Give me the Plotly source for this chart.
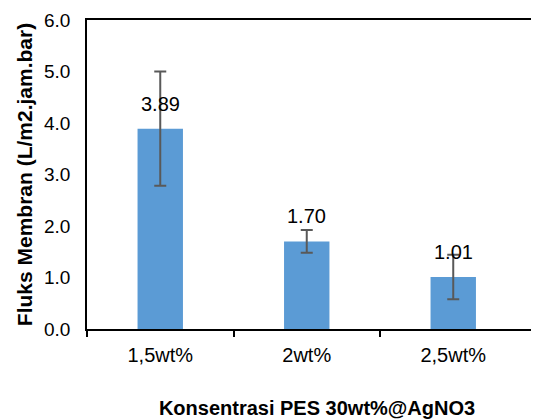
import plotly.graph_objects as go

categories = ["1,5wt%", "2wt%", "2,5wt%"]
flux = [3.89, 1.70, 1.01]
flux_err = [1.11, 0.22, 0.43]
y_ticks = [0, 1, 2, 3, 4, 5, 6]

x_idx = list(range(len(categories)))

fig = go.Figure()
fig.add_trace(go.Bar(
    x=x_idx, y=flux, width=0.31,
    marker=dict(color="#5B9BD5", line=dict(width=0)),
    error_y=dict(type="data", array=flux_err, visible=True,
                 color="#595959", thickness=2, width=6),
    hoverinfo="skip",
))

for xi, v in zip(x_idx, flux):
    fig.add_annotation(x=xi, y=v, text=f"{v:.2f}", showarrow=False,
                       yanchor="bottom", yshift=12,
                       font=dict(family="Liberation Sans, Arial", size=20, color="#000000"))

fig.update_layout(
    width=539, height=420,
    margin=dict(l=79, r=0, t=12, b=99),
    paper_bgcolor="white", plot_bgcolor="white",
    showlegend=False,
    font=dict(family="Liberation Sans, Arial", size=20, color="#000000"),
)
fig.update_xaxes(
    range=[-0.5, 2.64], automargin=False,
    tickvals=x_idx, ticktext=categories, ticks="",
    ticklabelstandoff=7,
    minor=dict(tickvals=[-0.5, 0.5, 1.5], ticks="outside", ticklen=6,
               tickcolor="#000000", tickwidth=1.5, showgrid=False),
    showline=True, linecolor="#000000", linewidth=1.5, mirror=True,
    showgrid=False, zeroline=False,
    title=dict(text="<b>Konsentrasi PES 30wt%@AgNO3</b>",
               font=dict(size=20), standoff=36),
)
fig.update_yaxes(
    range=[0, 6], tickvals=y_ticks, tickformat=".1f", ticks="",
    ticklabelstandoff=11, automargin=False,
    tickfont=dict(size=19),
    showline=True, linecolor="#000000", linewidth=1.5,
    showgrid=False, zeroline=False,
    title=dict(text="<b>Fluks Membran (L/m2.jam.bar)</b>",
               font=dict(size=21), standoff=6),
)

fig.write_html("out.html")
